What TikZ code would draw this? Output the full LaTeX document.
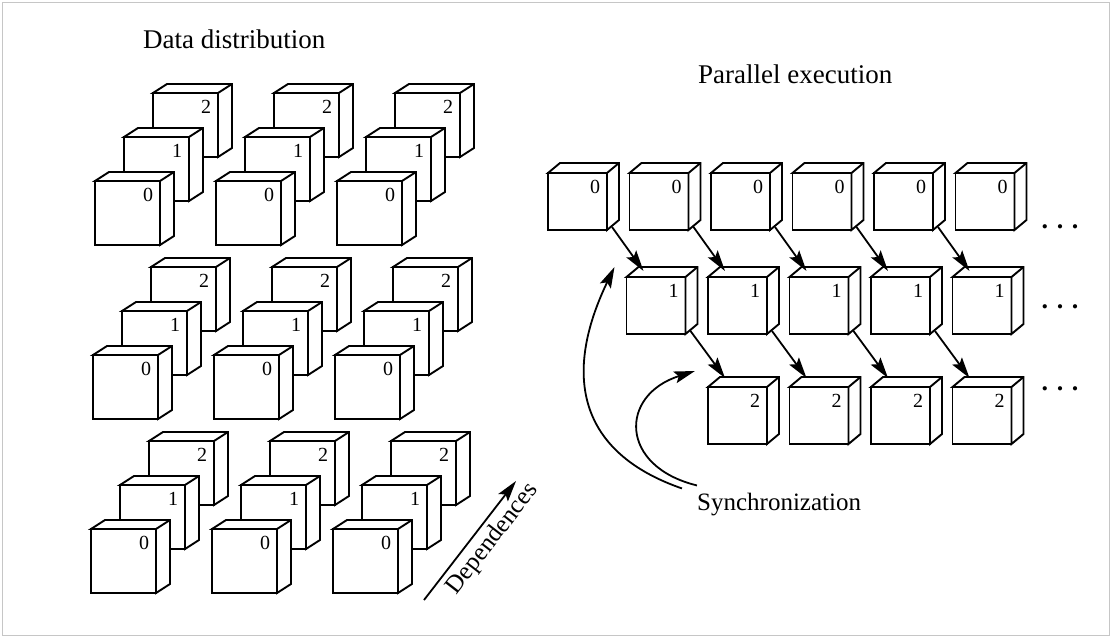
\documentclass[tikz,border=0pt]{standalone}
\usepackage{fontspec}
\setmainfont{Liberation Serif}
\usetikzlibrary{arrows.meta,positioning,calc}
\newcommand{\fsz}[1]{\fontsize{#1}{#1}\selectfont}
% block drawn as a cube: style, name, x, y, number, depth offset
\newcommand{\cube}[6]{%
  \node[#1] (#2) at (#3,#4) {};
  \draw[face] (#2.north west) -- ++#6 -- ($(#2.north east)+#6$) -- ($(#2.south east)+#6$)
    -- (#2.south east) -- (#2.north east) -- cycle;
  \draw[face] (#2.north east) -- ++#6;
  \node[digit] (#2-l) at ($(#2.north east)+(-12,14)$) {#5};
}

\begin{document}
\begin{tikzpicture}[x=1pt, y=-1pt,
  face/.style={draw, fill=white, line width=1.9pt},
  distface/.style={face, inner sep=0pt, outer sep=0pt, anchor=north west,
    minimum width=65pt, minimum height=64pt},
  execface/.style={distface, minimum width=59pt, minimum height=57pt},
  digit/.style={inner sep=0pt, font=\fsz{20}},
  title/.style={inner sep=0pt, anchor=base west, font=\fsz{27}},
  note/.style={inner sep=0pt, font=\fsz{25}},
  dots/.style={inner sep=0pt, font=\fsz{26}\bfseries},
  dep/.style={-{Stealth[length=21pt,width=12pt,inset=4pt]}, line width=1.8pt},
]
\useasboundingbox (0,0) rectangle (1111,637);
\draw[gray!45, line width=1pt] (2,2) rectangle (1109,635);

\node[title] (distt) at (143,48) {Data distribution};
\node[title] (exect) at (698,83) {Parallel execution};

% data distribution: 3x3 groups of three blocks
\foreach \j in {0,1,2}{
  \foreach \i in {0,1,2}{
    \foreach \l in {2,1,0}{
      \pgfmathsetmacro\cx{95+121*\i-2*\j+29*\l}
      \pgfmathsetmacro\cy{181+174*\j-44*\l}
      \cube{distface}{d\i\j-\l}{\cx}{\cy}{\l}{(14,-9)}
    }
  }
}

\coordinate (depA) at (424,600);
\coordinate (depB) at (516,481);
\draw[dep] (depA) -- node[note, sloped, below=5pt, pos=0.6] (deplab) {Dependences} (depB);

% parallel execution: wavefront rows
\foreach \r/\ty/\sh in {0/173/0, 1/277/3, 2/387/3}{
  \foreach \k in {\r,...,5}{
    \pgfmathsetmacro\cx{548+81.5*\k-\sh}
    \cube{execface}{e\r-\k}{\cx}{\ty}{\r}{(12,-10)}
  }
}
\foreach \k [count=\n from 1] in {0,...,4}
  \draw[dep] ($(e0-\k.south east)+(5,-3)$) -- ($(e1-\n.north west)+(17,-6)$);
\foreach \k [count=\n from 2] in {1,...,4}
  \draw[dep] ($(e1-\k.south east)+(5,-3)$) -- ($(e2-\n.north west)+(17,-9)$);

\node[dots] (more0) at (1060,227) {. . .};
\node[dots] (more1) at (1060,307) {. . .};
\node[dots] (more2) at (1060,389) {. . .};

\node[note, anchor=base west] (sync) at (697,510) {Synchronization};
\coordinate (syncA) at ($(e1-1.north west)+(-12,-10)$);
\coordinate (syncB) at ($(e2-2.north west)+(-13,-16)$);
\draw[dep] ($(sync.north west)+(-15,-4)$) .. controls +(-104,-36) and +(-52,108) .. (syncA);
\draw[dep] ($(sync.north west)+(0,-7)$) .. controls +(-78,-19) and +(-76,24) .. (syncB);
\end{tikzpicture}
\end{document}
